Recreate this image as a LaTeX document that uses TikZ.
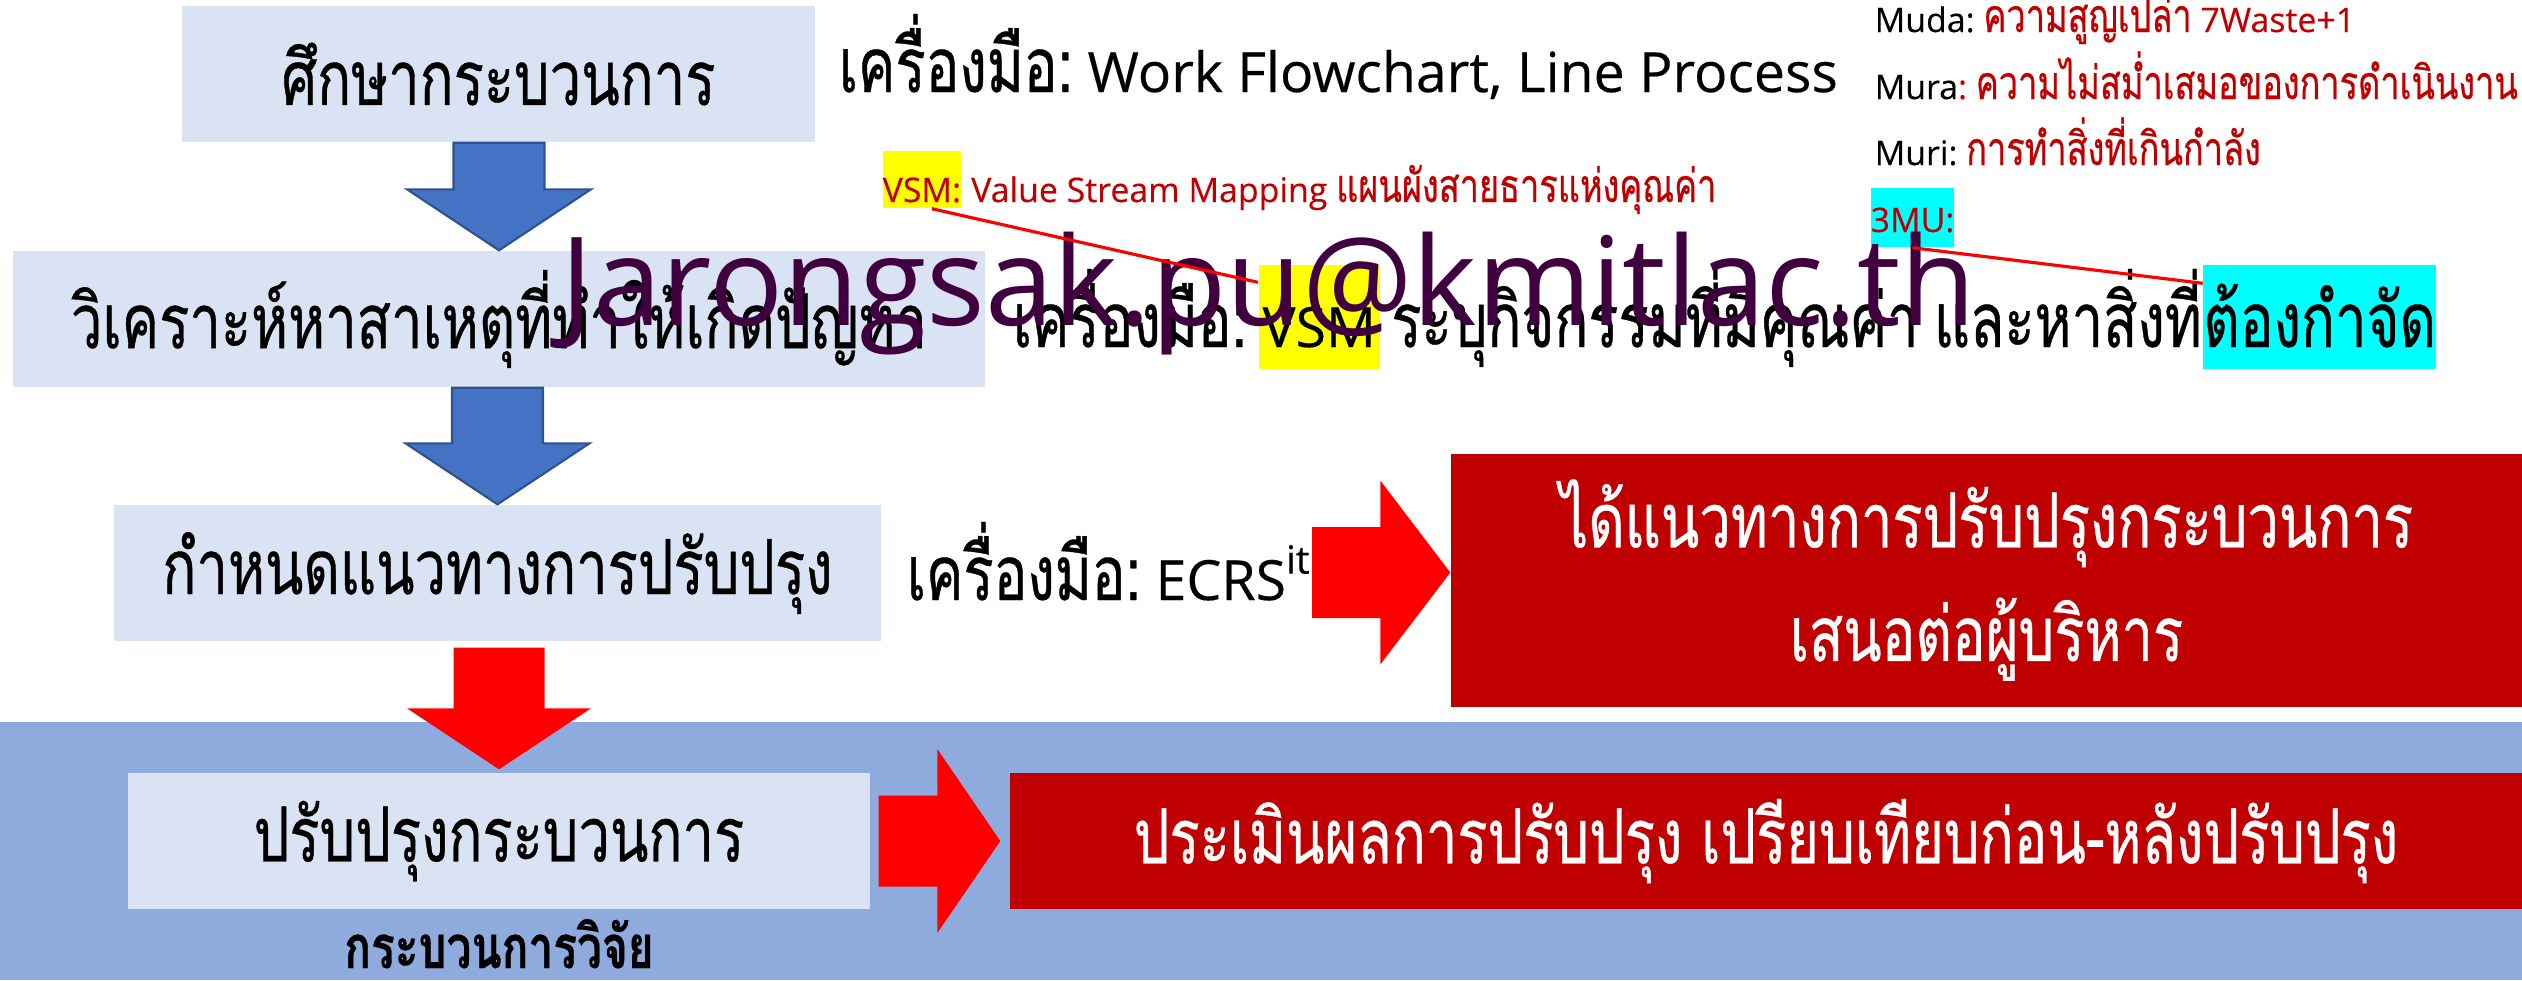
\documentclass[tikz,border=0pt]{standalone}
\usepackage{fontspec}
\setmainfont[Script=Thai,FakeStretch=0.74,FakeBold=0.5]{Loma}
\newfontfamily\latfont[Scale=0.73,FakeBold=0.3]{Open Sans}
\newfontfamily\markfont{Open Sans}
\newcommand{\lat}[1]{{\latfont #1}}
\usetikzlibrary{calc,positioning}

\definecolor{boxfill}{HTML}{DAE3F3}
\definecolor{bandblue}{HTML}{8FAADC}
\definecolor{arrowblue}{HTML}{4472C4}
\definecolor{arrowedge}{HTML}{2F528F}
\definecolor{darkred}{HTML}{C00000}
\definecolor{notered}{HTML}{C00000}
\definecolor{markpurple}{HTML}{400040}
\definecolor{hiyellow}{HTML}{FFFF00}
\definecolor{hicyan}{HTML}{00FFFF}

\newcommand{\mainsize}{\fontsize{21.6pt}{32.3pt}\selectfont}
\newcommand{\notesize}{\fontsize{13.2pt}{15pt}\selectfont}
\newcommand{\gap}{\hspace{0.2em}}

% block arrows: style, start, tip
\newcommand{\downblock}[3]{%
  \path[#1] let \p1=(#2), \p2=(#3) in
    (\x2-0.455cm,\y1) -- (\x2+0.455cm,\y1) -- (\x2+0.455cm,\y2+0.61cm)
    -- (\x2+0.92cm,\y2+0.61cm) -- (\x2,\y2) -- (\x2-0.92cm,\y2+0.61cm)
    -- (\x2-0.455cm,\y2+0.61cm) -- cycle;}
\newcommand{\rightblock}[4]{%
  \path[#1] let \p1=(#2), \p2=(#3) in
    (\x1,\y2+0.455cm) -- (\x2-#4,\y2+0.455cm) -- (\x2-#4,\y2+0.92cm)
    -- (\x2,\y2) -- (\x2-#4,\y2-0.92cm) -- (\x2-#4,\y2-0.455cm)
    -- (\x1,\y2-0.455cm) -- cycle;}

\tikzset{
  stepbox/.style={fill=boxfill, minimum height=1.36cm, inner sep=0pt, font=\mainsize},
  resultbox/.style={fill=darkred, text=white, minimum height=1.36cm, inner sep=0pt,
    font=\mainsize, align=center},
  tooltext/.style={inner sep=0pt, font=\mainsize},
  notetext/.style={inner sep=0pt, font=\notesize},
  bluedown/.style={fill=arrowblue, draw=arrowedge, line width=0.6pt},
  reddown/.style={fill=red},
  pointer/.style={draw=red, line width=0.9pt},
  watermark/.style={inner sep=0pt, text=markpurple, font=\markfont\fontsize{35pt}{40pt}\selectfont}
}

\begin{document}
\begin{tikzpicture}
\useasboundingbox (0,0) rectangle (25.22,-9.80);
\fill[bandblue] (0,-7.22) rectangle (25.22,-9.80);

% steps
\node[stepbox, minimum width=6.33cm] (study) at (4.985,-0.74) {ศึกษากระบวนการ};
\node[stepbox, minimum width=9.72cm] (analyse) at (4.99,-3.19) {วิเคราะห์หาสาเหตุที่ทำให้เกิดปัญหา};
\node[stepbox, minimum width=7.67cm] (plan) at (4.975,-5.73) {กำหนดแนวทางการปรับปรุง};
\node[stepbox, minimum width=7.42cm] (improve) at (4.99,-8.41) {ปรับปรุงกระบวนการ};
\node[inner sep=0pt, font=\fontsize{17pt}{18pt}\selectfont\bfseries, anchor=base] (research) at (4.99,-9.68) {กระบวนการวิจัย};

% results
\node[resultbox, minimum width=10.71cm, minimum height=2.53cm] (propose) at (19.865,-5.80)
  {ได้แนวทางการปรับปรุงกระบวนการ\\เสนอต่อผู้บริหาร};
\node[resultbox, minimum width=15.12cm] (evaluate) at (17.66,-8.41)
  {ประเมินผลการปรับปรุง เปรียบเทียบก่อน-หลังปรับปรุง};

% arrows
\downblock{bluedown}{study.south}{analyse.north}
\downblock{bluedown}{analyse.south}{plan.north}
\downblock{reddown}{[yshift=-0.06cm]plan.south}{[yshift=0.03cm]improve.north}
\coordinate (gap) at (13.12,-5.785);
\rightblock{reddown}{gap}{[yshift=0.075cm]propose.west}{0.70cm}
\rightblock{reddown}{[xshift=0.08cm]improve.east}{[xshift=-0.09cm]evaluate.west}{0.63cm}

% tools
\node[tooltext, anchor=base west] (tool1) at (8.38,-0.92) {เครื่องมือ:\lat{~Work Flowchart, Line Process}};
\node[tooltext, anchor=base west] (tool2) at (10.12,-3.47) {เครื่องมือ:};
\node[tooltext, anchor=base west, fill=hiyellow, text height=0.82cm, text depth=0.22cm, inner xsep=0.04cm]
  (vsmmark) at ([xshift=0.1cm]tool2.base east) {\lat{VSM}};
\node[tooltext, anchor=base west] (tool2b) at ([xshift=0.1cm]vsmmark.base east) {ระบุกิจกรรมที่มีคุณค่า\gap และหาสิ่งที่};
\node[tooltext, anchor=base west, fill=hicyan, text height=0.82cm, text depth=0.22cm]
  (cutmark) at (tool2b.base east) {ต้องกำจัด};
\node[tooltext, anchor=base west] (tool3) at (9.06,-6.00) {เครื่องมือ:\lat{~ECRS\textsuperscript{it}}};

% notes
\node[notetext, anchor=base west, fill=hiyellow, text height=0.51cm, text depth=0.06cm]
  (vsmtag) at (8.82,-2.02) {\textcolor{notered}{\lat{VSM:}}};
\node[notetext, anchor=base west, text=notered] (vsmnote) at (vsmtag.base east)
  {\lat{~Value Stream Mapping~}แผนผังสายธารแห่งคุณค่า};
\node[notetext, anchor=base west] (muda) at (18.74,-0.32)
  {\lat{Muda:~}\textcolor{notered}{ความสูญเปล่า\lat{~7Waste+1}}};
\node[notetext, anchor=base west] (mura) at (18.74,-0.99)
  {\lat{Mura}\textcolor{notered}{\lat{:~}ความไม่สม่ำเสมอของการดำเนินงาน}};
\node[notetext, anchor=base west] (muri) at (18.74,-1.65)
  {\lat{Muri:~}\textcolor{notered}{การทำสิ่งที่เกินกำลัง}};
\node[notetext, anchor=base west, fill=hicyan, text height=0.44cm, text depth=0.15cm]
  (mutag) at (18.70,-2.32) {\textcolor{notered}{\lat{3MU:}}};

\node[watermark, anchor=base west] (mark) at (5.60,-3.25) {Jarongsak.pu@kmitlac.th};

\draw[pointer] ([xshift=0.1cm]vsmtag.south) -- ([yshift=-0.18cm]vsmmark.north west);
\draw[pointer] (mutag.south) -- ([yshift=-0.19cm]cutmark.north west);
\end{tikzpicture}
\end{document}
